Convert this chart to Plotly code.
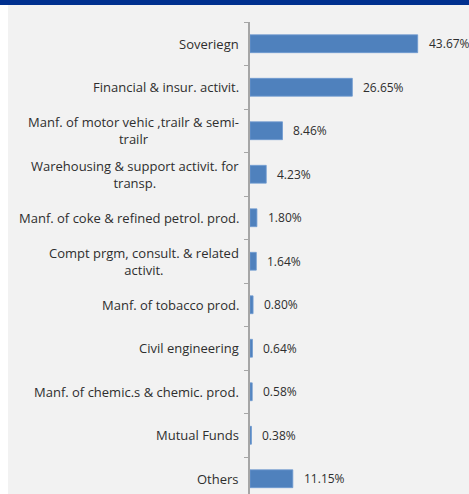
import plotly.graph_objects as go

categories = [
    "Soveriegn",
    "Financial & insur. activit.",
    "Manf. of motor vehic ,trailr & semi-<br>trailr",
    "Warehousing & support activit. for<br>transp.",
    "Manf. of coke & refined petrol. prod.",
    "Compt prgm, consult. & related<br>activit.",
    "Manf. of tobacco prod.",
    "Civil engineering",
    "Manf. of chemic.s & chemic. prod.",
    "Mutual Funds",
    "Others",
]
values = [43.67, 26.65, 8.46, 4.23, 1.80, 1.64, 0.80, 0.64, 0.58, 0.38, 11.15]
value_labels = ["43.67%", "26.65%", "8.46%", "4.23%", "1.80%", "1.64%",
                "0.80%", "0.64%", "0.58%", "0.38%", "11.15%"]

W, H = 469, 494
FONT = "Open Sans"
TXT = "#2e2e2e"

fig = go.Figure()
fig.add_trace(go.Bar(
    x=values, y=categories, orientation="h",
    marker=dict(color="#4f81bd", line=dict(color="#6f9bd0", width=0.8)),
    width=0.41, hoverinfo="skip",
))

annotations = []
for c, v, t in zip(categories, values, value_labels):
    annotations.append(dict(x=v, y=c, xref="x", yref="y", text=t, showarrow=False,
                            xanchor="left", xshift=9, font=dict(family=FONT, size=12, color=TXT)))
    annotations.append(dict(x=0, y=c, xref="x", yref="y", text=c, showarrow=False,
                            xanchor="right", align="center", xshift=-9,
                            font=dict(family=FONT, size=13, color=TXT)))

x0 = 250 / W
x1 = 460 / W
px_per = 3.84
top = 22
cat_px = 43.5
vis = (H - top) / cat_px

fig.update_layout(
    width=W, height=H, margin=dict(l=0, r=0, t=0, b=0),
    paper_bgcolor="white", plot_bgcolor="rgba(0,0,0,0)",
    showlegend=False, annotations=annotations,
    xaxis=dict(domain=[x0, x1], range=[0, (460 - 250) / px_per], visible=False),
    yaxis=dict(domain=[0, 1 - top / H], range=[-0.5 + vis, -0.5],
               showticklabels=False, showline=True, linecolor="#a6a6a6", linewidth=2,
               ticks="outside", ticklen=4, tickcolor="#a6a6a6", tickwidth=1,
               tickson="boundaries", showgrid=False, zeroline=False),
    shapes=[
        dict(type="rect", xref="paper", yref="paper", x0=8 / W, x1=1, y0=0, y1=1 - 5 / H,
             fillcolor="#f2f2f2", line=dict(width=0), layer="below"),
        dict(type="rect", xref="paper", yref="paper", x0=0, x1=1, y0=1 - 5 / H, y1=1,
             fillcolor="#00308f", line=dict(width=0), layer="below"),
    ],
)

fig.write_html("out.html")
